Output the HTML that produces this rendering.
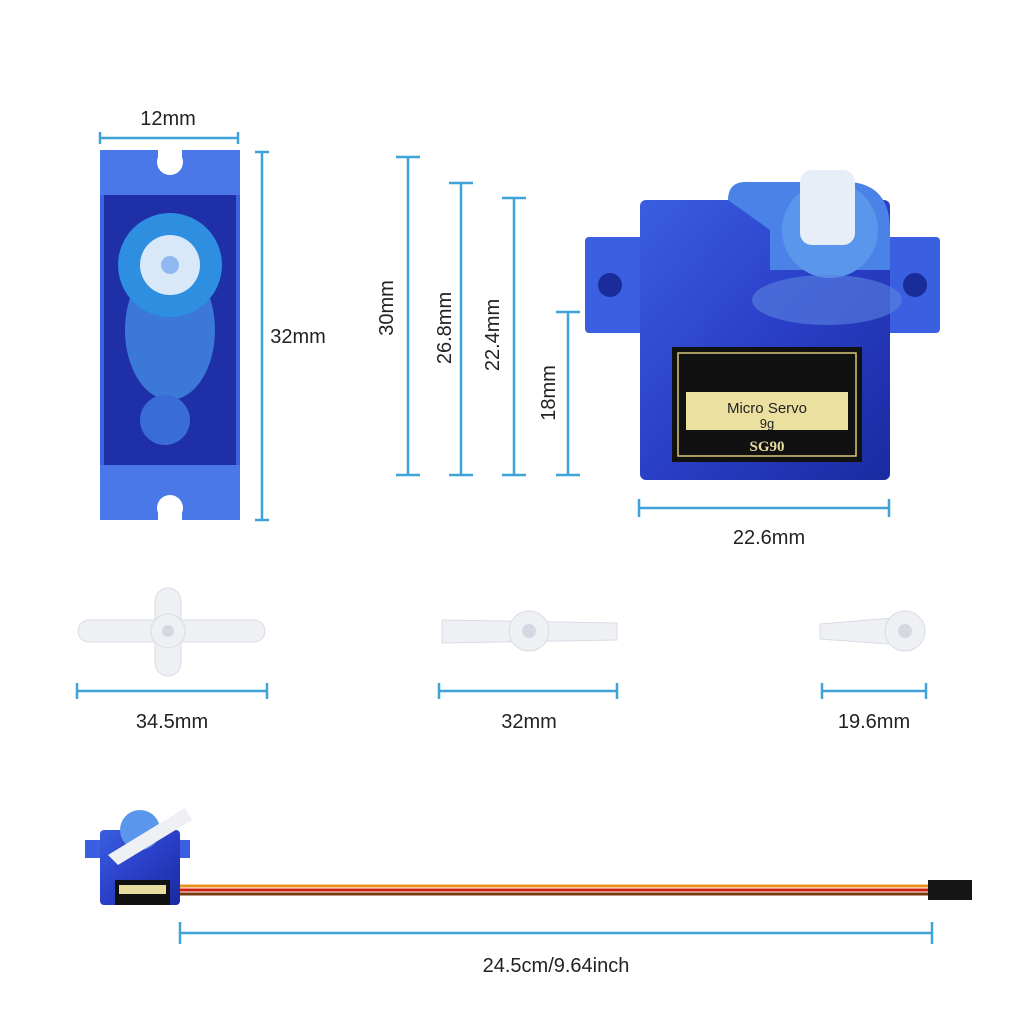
<!DOCTYPE html>
<html><head><meta charset="utf-8"><style>
html,body{margin:0;padding:0;background:#fff;}
svg{display:block;}
text{font-family:"Liberation Sans",sans-serif;font-size:20px;fill:#222;}
</style></head><body>
<svg width="1024" height="1024" viewBox="0 0 1024 1024" xmlns="http://www.w3.org/2000/svg">
<defs>
<linearGradient id="bl" x1="0" y1="0" x2="1" y2="1">
<stop offset="0" stop-color="#3a5ee0"/><stop offset="0.5" stop-color="#2a3fc8"/><stop offset="1" stop-color="#1a2aa0"/>
</linearGradient>
</defs>
<g stroke="#3fa2d8" stroke-width="2.5" fill="none">
<!-- 12mm -->
<line x1="100" y1="138" x2="238" y2="138"/><line x1="100" y1="132" x2="100" y2="144"/><line x1="238" y1="132" x2="238" y2="144"/>
<!-- 32mm vertical -->
<line x1="262" y1="152" x2="262" y2="520"/><line x1="255" y1="152" x2="269" y2="152"/><line x1="255" y1="520" x2="269" y2="520"/>
<line x1="408" y1="157" x2="408" y2="475"/><line x1="396" y1="157" x2="420" y2="157"/><line x1="396" y1="475" x2="420" y2="475"/>
<line x1="461" y1="183" x2="461" y2="475"/><line x1="449" y1="183" x2="473" y2="183"/><line x1="449" y1="475" x2="473" y2="475"/>
<line x1="514" y1="198" x2="514" y2="475"/><line x1="502" y1="198" x2="526" y2="198"/><line x1="502" y1="475" x2="526" y2="475"/>
<line x1="568" y1="312" x2="568" y2="475"/><line x1="556" y1="312" x2="580" y2="312"/><line x1="556" y1="475" x2="580" y2="475"/>
<!-- 22.6mm -->
<line x1="639" y1="508" x2="889" y2="508"/><line x1="639" y1="499" x2="639" y2="517"/><line x1="889" y1="499" x2="889" y2="517"/>
<line x1="77" y1="691" x2="267" y2="691"/><line x1="77" y1="683" x2="77" y2="699"/><line x1="267" y1="683" x2="267" y2="699"/>
<line x1="439" y1="691" x2="617" y2="691"/><line x1="439" y1="683" x2="439" y2="699"/><line x1="617" y1="683" x2="617" y2="699"/>
<line x1="822" y1="691" x2="926" y2="691"/><line x1="822" y1="683" x2="822" y2="699"/><line x1="926" y1="683" x2="926" y2="699"/>
<line x1="180" y1="933" x2="932" y2="933"/><line x1="180" y1="922" x2="180" y2="944"/><line x1="932" y1="922" x2="932" y2="944"/>
</g>
<text x="168" y="125" text-anchor="middle">12mm</text>
<text x="298" y="343" text-anchor="middle">32mm</text>
<text transform="translate(393,308) rotate(-90)" text-anchor="middle">30mm</text>
<text transform="translate(451,328) rotate(-90)" text-anchor="middle">26.8mm</text>
<text transform="translate(499,335) rotate(-90)" text-anchor="middle">22.4mm</text>
<text transform="translate(555,393) rotate(-90)" text-anchor="middle">18mm</text>
<text x="769" y="544" text-anchor="middle">22.6mm</text>
<text x="172" y="728" text-anchor="middle">34.5mm</text>
<text x="529" y="728" text-anchor="middle">32mm</text>
<text x="874" y="728" text-anchor="middle">19.6mm</text>
<text x="556" y="972" text-anchor="middle">24.5cm/9.64inch</text>

<!-- left servo top view -->
<rect x="100" y="150" width="140" height="370" rx="4" fill="#3b63e0"/>
<rect x="104" y="195" width="132" height="270" fill="#1f2fa8"/>
<rect x="100" y="150" width="140" height="45" fill="#4a78e8"/>
<rect x="100" y="465" width="140" height="55" fill="#4a78e8"/>
<circle cx="170" cy="162" r="13" fill="#fff"/><rect x="158" y="150" width="24" height="12" fill="#fff"/>
<circle cx="170" cy="508" r="13" fill="#fff"/><rect x="158" y="508" width="24" height="12" fill="#fff"/>
<ellipse cx="170" cy="330" rx="45" ry="70" fill="#3b78d8"/>
<circle cx="170" cy="265" r="52" fill="#2e8ee0"/>
<circle cx="170" cy="265" r="30" fill="#d8e8f8"/>
<circle cx="170" cy="265" r="9" fill="#8fb8f0"/>
<circle cx="165" cy="420" r="25" fill="#3a6cd8"/>

<!-- right servo side view -->
<rect x="585" y="237" width="355" height="96" rx="4" fill="#3a5fe0"/>
<circle cx="610" cy="285" r="12" fill="#1a2b9a"/><circle cx="915" cy="285" r="12" fill="#1a2b9a"/>
<rect x="640" y="200" width="250" height="280" rx="6" fill="url(#bl)"/>
<path d="M728 200 Q728 180 750 182 L850 182 Q890 185 890 230 L890 270 L770 270 L770 230 Z" fill="#4a82e8"/>
<circle cx="830" cy="230" r="48" fill="#5a96ec"/>
<rect x="800" y="170" width="55" height="75" rx="12" fill="#e8eef8"/>
<ellipse cx="827" cy="300" rx="75" ry="25" fill="#5a84e0" opacity="0.6"/>
<rect x="672" y="347" width="190" height="115" fill="#111"/>
<rect x="678" y="353" width="178" height="103" fill="none" stroke="#d8c878" stroke-width="1.5"/>
<rect x="686" y="392" width="162" height="38" fill="#ece0a0"/>
<text x="767" y="413" text-anchor="middle" style="font-size:15px">Micro Servo</text>
<text x="767" y="428" text-anchor="middle" style="font-size:13px">9g</text>
<text x="767" y="451" text-anchor="middle" style="font-size:15px;font-family:'Liberation Serif',serif;font-weight:bold;fill:#e8dca0">SG90</text>

<!-- horns -->
<g fill="#eef0f4" stroke="#d8dce4">
<rect x="78" y="620" width="187" height="22" rx="11"/>
<rect x="155" y="588" width="26" height="88" rx="13"/>
<circle cx="168" cy="631" r="17"/>
<path d="M442 620 L617 623 L617 640 L442 643 Z"/>
<circle cx="529" cy="631" r="20"/>
<path d="M820 624 L905 617 L905 645 L820 639 Z"/>
<circle cx="905" cy="631" r="20"/>
</g>
<circle cx="168" cy="631" r="6" fill="#d4d8e0"/><circle cx="529" cy="631" r="7" fill="#d4d8e0"/><circle cx="905" cy="631" r="7" fill="#d4d8e0"/>

<!-- cable -->
<line x1="180" y1="886" x2="930" y2="886" stroke="#e89020" stroke-width="3"/>
<line x1="180" y1="890" x2="930" y2="890" stroke="#d02010" stroke-width="3"/>
<line x1="180" y1="894" x2="930" y2="894" stroke="#7a3a10" stroke-width="3"/>
<rect x="928" y="880" width="44" height="20" fill="#151515"/>

<!-- small servo -->
<rect x="85" y="840" width="105" height="18" fill="#3a5fe0"/>
<rect x="100" y="830" width="80" height="75" rx="4" fill="url(#bl)"/>
<circle cx="140" cy="830" r="20" fill="#5a96ec"/>
<path d="M108 855 L185 808 L192 820 L118 865 Z" fill="#eef0f4"/>
<rect x="115" y="880" width="55" height="25" fill="#111"/>
<rect x="119" y="885" width="47" height="9" fill="#e8dca0"/>
</svg>
</body></html>
